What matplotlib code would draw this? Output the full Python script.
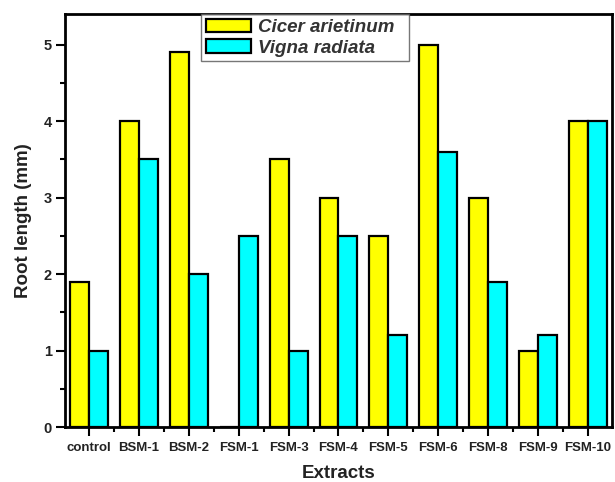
import matplotlib
matplotlib.use("Agg")
import matplotlib.pyplot as plt
import numpy as np
from matplotlib.ticker import MultipleLocator

categories = ["control", "BSM-1", "BSM-2", "FSM-1", "FSM-3", "FSM-4",
              "FSM-5", "FSM-6", "FSM-8", "FSM-9", "FSM-10"]
cicer = [1.9, 4.0, 4.9, 0.0, 3.5, 3.0, 2.5, 5.0, 3.0, 1.0, 4.0]
vigna = [1.0, 3.5, 2.0, 2.5, 1.0, 2.5, 1.2, 3.6, 1.9, 1.2, 4.0]
series_names = ["Cicer arietinum", "Vigna radiata"]

plt.rcParams['font.family'] = ['Liberation Sans', 'DejaVu Sans']

fig = plt.figure(figsize=(6.15, 4.82), dpi=100)
ax = fig.add_axes([0.1057, 0.1141, 0.8893, 0.857])

x = np.arange(len(categories))
w = 0.38
ax.bar(x - w/2, cicer, w, color="#FFFF00", edgecolor="black", linewidth=1.6,
       label=series_names[0])
ax.bar(x + w/2, vigna, w, color="#00FFFF", edgecolor="black", linewidth=1.6,
       label=series_names[1])

ax.set_xlim(-0.48, 10.48)
ax.set_ylim(0, 5.4)
ax.set_xticks(x)
ax.set_xticklabels(categories, fontsize=9.5, fontweight="bold", color="#222222")
ax.xaxis.set_minor_locator(MultipleLocator(0.5))
ax.yaxis.set_major_locator(MultipleLocator(1))
ax.yaxis.set_minor_locator(MultipleLocator(0.5))
for lbl in ax.get_yticklabels():
    lbl.set_fontweight("bold")
    lbl.set_fontsize(10.5)
    lbl.set_color("#222222")
ax.tick_params(axis="both", which="major", direction="out", length=6.5, width=1.5)
ax.tick_params(axis="both", which="minor", direction="out", length=3.5, width=1.5)
ax.tick_params(top=False, right=False, which="both")
ax.tick_params(axis="x", which="major", pad=4)
ax.tick_params(axis="y", which="major", pad=3)

for s in ax.spines.values():
    s.set_linewidth(2)

ax.set_xlabel("Extracts", fontsize=13.5, fontweight="bold", labelpad=8,
              color="#222222")
ax.set_ylabel("Root length (mm)", fontsize=13.5, fontweight="bold", labelpad=8,
              color="#222222")

leg = ax.legend(loc="upper left", bbox_to_anchor=(0.249, 0.889, 0.38, 0.111),
                mode="expand", borderaxespad=0,
                prop={"size": 13.5, "weight": "bold", "style": "italic"},
                handlelength=2.4, handleheight=0.75, fancybox=False,
                frameon=True, labelspacing=0.18, borderpad=0.25,
                handletextpad=0.4)
leg.get_frame().set_edgecolor("#555555")
leg.get_frame().set_linewidth(1.0)
for t in leg.get_texts():
    t.set_color("#333333")

fig.savefig("out.png", dpi=100)
